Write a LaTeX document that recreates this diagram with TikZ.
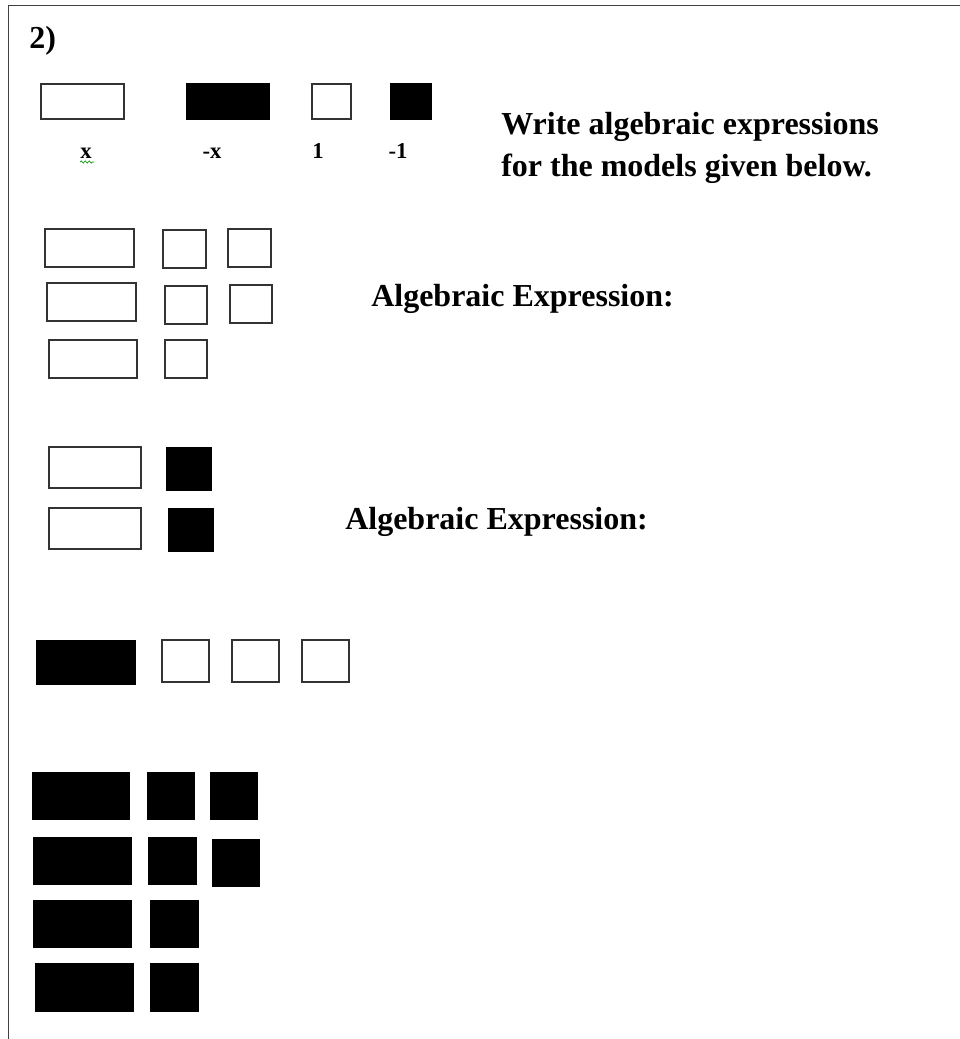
\documentclass[tikz,border=0pt]{standalone}
\usepackage{fontspec}
\setmainfont{Liberation Serif}
\usetikzlibrary{decorations.pathmorphing}
\begin{document}
\begin{tikzpicture}[x=0.75pt,y=-0.75pt,
  wtile/.style={draw=black!80,line width=1.1pt,fill=white},
  btile/.style={draw=black,line width=0.9pt,fill=black},
  frameline/.style={draw=black!75,line width=1.2pt},
  bigtxt/.style={font=\fontsize{24}{30}\selectfont\bfseries,inner sep=0pt,anchor=base west},
  lbltxt/.style={font=\fontsize{17}{20}\selectfont\bfseries,inner sep=0pt,anchor=base}]
\useasboundingbox (0,0) rectangle (960,1039);
% frame
\draw[frameline] (8.5,1039) -- (8.5,5.5) -- (960,5.5);
% title
\node[bigtxt] (num) at (29,48) {2)};
% legend tiles
\draw[wtile] (41,84) rectangle (124,119);
\draw[btile] (187,84) rectangle (269,119);
\draw[wtile] (312,84) rectangle (351,119);
\draw[btile] (391,84) rectangle (431,119);
\node[lbltxt] (lx) at (86,158) {x};
\node[lbltxt] (lmx) at (212,158) {-x};
\node[lbltxt] (l1) at (318,158) {1};
\node[lbltxt] (lm1) at (398,158) {-1};
\draw[green!60!black,line width=0.5pt,decorate,decoration={snake,amplitude=0.8pt,segment length=3pt}] (80,162) -- (94,162);
% instructions
\node[bigtxt] (w1) at (501,134) {Write algebraic expressions};
\node[bigtxt] (w2) at (501,176) {for the models given below.};
% model 1
\draw[wtile] (45,229) rectangle (134,267);
\draw[wtile] (163,230) rectangle (206,268);
\draw[wtile] (228,229) rectangle (271,267);
\draw[wtile] (47,283) rectangle (136,321);
\draw[wtile] (165,286) rectangle (207,324);
\draw[wtile] (230,285) rectangle (272,323);
\draw[wtile] (49,340) rectangle (137,378);
\draw[wtile] (165,340) rectangle (207,378);
\node[bigtxt] (ae1) at (371,306) {Algebraic Expression:};
% model 2
\draw[wtile] (49,447) rectangle (141,488);
\draw[btile] (167,448) rectangle (211,490);
\draw[wtile] (49,508) rectangle (141,549);
\draw[btile] (169,509) rectangle (213,551);
\node[bigtxt] (ae2) at (345,529) {Algebraic Expression:};
% model 3
\draw[btile] (37,641) rectangle (135,684);
\draw[wtile] (162,640) rectangle (209,682);
\draw[wtile] (232,640) rectangle (279,682);
\draw[wtile] (302,640) rectangle (349,682);
% model 4
\draw[btile] (33,773) rectangle (129,819);
\draw[btile] (148,773) rectangle (194,819);
\draw[btile] (211,773) rectangle (257,819);
\draw[btile] (34,838) rectangle (131,884);
\draw[btile] (149,838) rectangle (196,884);
\draw[btile] (213,840) rectangle (259,886);
\draw[btile] (34,901) rectangle (131,947);
\draw[btile] (151,901) rectangle (198,947);
\draw[btile] (36,964) rectangle (133,1011);
\draw[btile] (151,964) rectangle (198,1011);
\end{tikzpicture}
\end{document}
